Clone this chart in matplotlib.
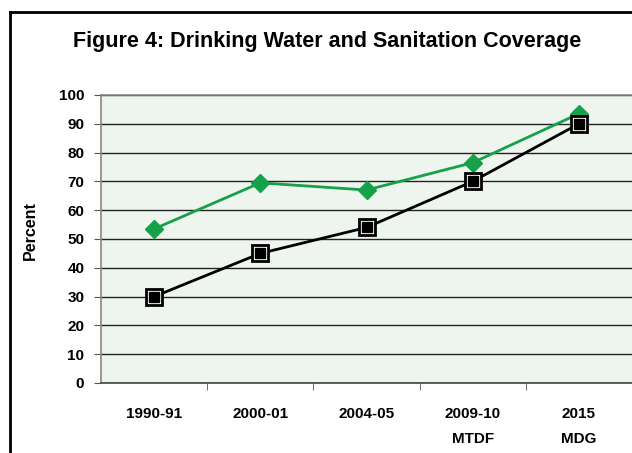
import matplotlib
matplotlib.use("Agg")
import matplotlib.pyplot as plt
from matplotlib.lines import Line2D

categories = ["1990-91", "2000-01", "2004-05", "2009-10\nMTDF", "2015\nMDG"]
water = [53.5, 69.5, 67, 76.5, 93.5]
sanitation = [30, 45, 54, 70, 90]
yticks = [0, 10, 20, 30, 40, 50, 60, 70, 80, 90, 100]

plt.rcParams['font.family'] = ['Liberation Sans', 'DejaVu Sans']

fig = plt.figure(figsize=(6.32, 4.53), dpi=100)
W, H = 632, 453

# figure border (left and top)
fig.add_artist(Line2D([10/W, 10/W], [0, 1 - 12/H], transform=fig.transFigure, color='black', lw=2))
fig.add_artist(Line2D([10/W, 1], [1 - 12/H, 1 - 12/H], transform=fig.transFigure, color='black', lw=2))

fig.text(327/W, 1 - 42/H, "Figure 4: Drinking Water and Sanitation Coverage",
         ha='center', va='center', fontsize=15.5, fontweight='bold')

ax = fig.add_axes([101/W, 1 - 383/H, 531/W, 288/H])
ax.set_facecolor('#eef5ee')
x = list(range(len(categories)))

ax.set_ylim(0, 100)
ax.set_xlim(-0.5, 4.5)
ax.set_yticks(yticks)
ax.set_yticklabels([str(v) for v in yticks], fontsize=11, fontweight='bold')
ax.yaxis.grid(True, color='#222222', lw=1)
ax.set_axisbelow(True)

ax.set_xticks(x)
ax.set_xticklabels(categories, fontsize=11, fontweight='bold', linespacing=2.0, va='top')
ax.tick_params(axis='x', which='major', length=0, pad=17)
ax.set_xticks([0.5, 1.5, 2.5, 3.5], minor=True)
ax.tick_params(axis='x', which='minor', length=5, color='#555555', direction='out')
ax.tick_params(axis='y', length=5, color='#555555', direction='out', pad=7)

for s in ['left', 'top', 'bottom']:
    ax.spines[s].set_color('#888888')
    ax.spines[s].set_linewidth(1.2)
ax.spines['bottom'].set_color('#444444')
ax.spines['right'].set_visible(False)

ax.plot(x, water, color='#17a04a', lw=2, marker='D', markersize=9,
        markerfacecolor='#17a04a', markeredgecolor='#17a04a', zorder=3, clip_on=False)
ax.plot(x, sanitation, color='black', lw=2, marker='s', markersize=11,
        markerfacecolor='white', markeredgecolor='black', markeredgewidth=2, zorder=3, clip_on=False)
ax.plot(x, sanitation, ls='none', marker='s', markersize=6.5,
        markerfacecolor='black', markeredgecolor='black', zorder=4, clip_on=False)

fig.text(30/W, 1 - 231/H, "Percent", rotation=90, ha='center', va='center',
         fontsize=11.5, fontweight='bold')

fig.savefig("out.png", dpi=100)
